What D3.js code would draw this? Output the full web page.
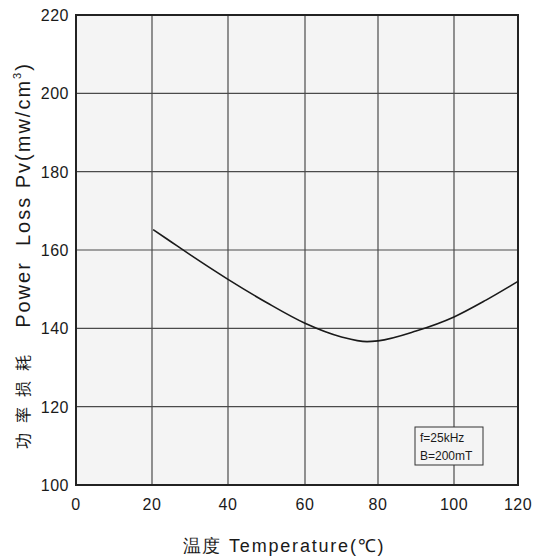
<!DOCTYPE html>
<html lang="en">
<head>
    <meta charset="UTF-8">
    <title>Power Loss vs Temperature</title>
    <script src="https://cdn.jsdelivr.net/npm/d3@7/dist/d3.min.js"></script>
    <style>
        body { margin: 0; background: #fff; }
        text { font-family: "Liberation Sans", Arial, sans-serif; fill: #1a1a1a; }
    </style>
</head>
<body>
<script>
    // curve
    var temps = [20.3, 25, 30, 40, 50, 60, 70, 77, 80, 90, 100, 110, 120];
    var losses = [165.2, 162.1, 158.8, 152.5, 146.6, 141.3, 137.8, 136.6, 136.8, 139.3, 142.9, 147.2, 152];
    var xTicks = [0, 20, 40, 60, 80, 100, 120];
    var yTicks = [100, 120, 140, 160, 180, 200, 220];
    var noteLines = ["f=25kHz", "B=200mT"];

    var width = 538, height = 557;
    var svg = d3.select("body").append("svg")
        .attr("width", width)
        .attr("height", height);

    // the source grid is slightly uneven, so map each tick to its own pixel
    var x = d3.scaleLinear()
        .domain(xTicks)
        .range([76, 152, 228, 305, 378, 454, 518]);
    var y = d3.scaleLinear()
        .domain([100, 220])
        .range([485, 15]);

    svg.append("rect")
        .attr("x", x(0)).attr("y", y(220))
        .attr("width", x(120) - x(0)).attr("height", y(100) - y(220))
        .attr("fill", "#f4f4f4");

    var grid = svg.append("g").attr("stroke", "#4a4a4a").attr("stroke-width", 1.2);
    grid.selectAll(".vx").data(xTicks.slice(1, -1)).enter().append("line")
        .attr("x1", function(d) { return x(d); }).attr("x2", function(d) { return x(d); })
        .attr("y1", y(220)).attr("y2", y(100));
    grid.selectAll(".hy").data(yTicks.slice(1, -1)).enter().append("line")
        .attr("y1", function(d) { return y(d); }).attr("y2", function(d) { return y(d); })
        .attr("x1", x(0)).attr("x2", x(120));

    svg.append("rect")
        .attr("x", x(0)).attr("y", y(220))
        .attr("width", x(120) - x(0)).attr("height", y(100) - y(220))
        .attr("fill", "none").attr("stroke", "#222").attr("stroke-width", 2);

    svg.selectAll(".xl").data(xTicks).enter().append("text")
        .attr("x", function(d) { return x(d); })
        .attr("y", 510)
        .attr("text-anchor", "middle")
        .attr("font-size", 16)
        .attr("letter-spacing", 0.5)
        .text(function(d) { return d; });

    svg.selectAll(".yl").data(yTicks).enter().append("text")
        .attr("x", 69)
        .attr("y", function(d) { return y(d) + 6; })
        .attr("text-anchor", "end")
        .attr("font-size", 16)
        .attr("letter-spacing", 0.5)
        .text(function(d) { return d; });

    var line = d3.line()
        .x(function(d, i) { return x(temps[i]); })
        .y(function(d) { return y(d); })
        .curve(d3.curveMonotoneX);

    svg.append("path")
        .datum(losses)
        .attr("d", line)
        .attr("fill", "none")
        .attr("stroke", "#1a1a1a")
        .attr("stroke-width", 1.6);

    // note box
    var note = svg.append("g").attr("transform", "translate(415,427)");
    note.append("rect")
        .attr("width", 68).attr("height", 38)
        .attr("fill", "#f4f4f4").attr("stroke", "#333").attr("stroke-width", 1);
    note.selectAll("text").data(noteLines).enter().append("text")
        .attr("x", 5)
        .attr("y", function(d, i) { return 15 + i * 18; })
        .attr("font-size", 12)
        .text(function(d) { return d; });

    // axis titles
    var yt = svg.append("text")
        .attr("transform", "translate(30,195) rotate(-90)")
        .attr("text-anchor", "middle")
        .attr("font-size", 20)
        .attr("letter-spacing", 2);
    yt.append("tspan").text("Power\u00a0\u00a0Loss Pv(mw/cm");
    yt.append("tspan").attr("font-size", 11).attr("dy", -9).text("3");
    yt.append("tspan").attr("dy", 9).text(")");

    svg.append("text")
        .attr("transform", "translate(29,397) rotate(-90)")
        .attr("text-anchor", "middle")
        .attr("font-size", 16)
        .attr("letter-spacing", 10)
        .style("font-family", "'Noto Sans CJK SC', sans-serif")
        .text("功率损耗");

    svg.append("text")
        .attr("x", 284)
        .attr("y", 552)
        .attr("text-anchor", "middle")
        .attr("font-size", 18)
        .attr("letter-spacing", 1.8)
        .text("温度 Temperature(℃)");
</script>
</body>
</html>
